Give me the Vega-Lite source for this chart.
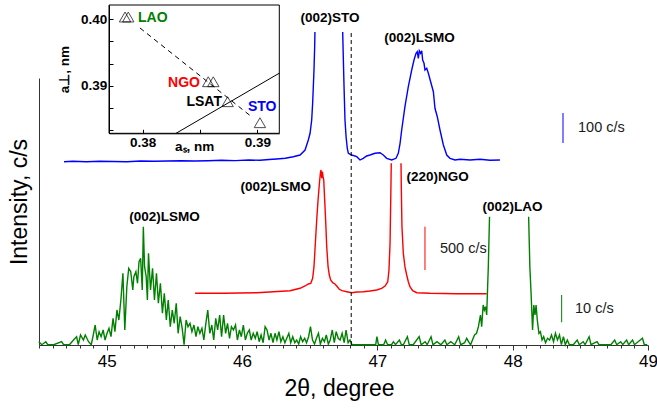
{
"$schema":"https://vega.github.io/schema/vega-lite/v6.json",
"width":609,"height":267,
"autosize":{"type":"none"},
"padding":{"left":39,"top":78,"right":9,"bottom":63},
"background":"white",
"config":{"view":{"stroke":null},"font":"Liberation Sans","axis":{"grid":false}},
"datasets":{
"curves":[
{"s":"STO","g":"STO1","t":44.685,"v":183.3},{"s":"STO","g":"STO1","t":44.75,"v":183.7},{"s":"STO","g":"STO1","t":44.85,"v":183.3},{"s":"STO","g":"STO1","t":44.95,"v":183.7},{"s":"STO","g":"STO1","t":45.05,"v":183.5},{"s":"STO","g":"STO1","t":45.15,"v":183.3},{"s":"STO","g":"STO1","t":45.25,"v":184.0},{"s":"STO","g":"STO1","t":45.35,"v":183.7},{"s":"STO","g":"STO1","t":45.45,"v":184.0},{"s":"STO","g":"STO1","t":45.55,"v":184.3},{"s":"STO","g":"STO1","t":45.65,"v":184.0},{"s":"STO","g":"STO1","t":45.75,"v":184.3},{"s":"STO","g":"STO1","t":45.85,"v":184.7},{"s":"STO","g":"STO1","t":45.95,"v":184.4},{"s":"STO","g":"STO1","t":46.05,"v":185.0},{"s":"STO","g":"STO1","t":46.133,"v":184.7},{"s":"STO","g":"STO1","t":46.2,"v":185.5},{"s":"STO","g":"STO1","t":46.256,"v":186.0},{"s":"STO","g":"STO1","t":46.32,"v":186.7},{"s":"STO","g":"STO1","t":46.379,"v":188.3},{"s":"STO","g":"STO1","t":46.429,"v":190},{"s":"STO","g":"STO1","t":46.466,"v":195},{"s":"STO","g":"STO1","t":46.49,"v":205},{"s":"STO","g":"STO1","t":46.503,"v":211.7},{"s":"STO","g":"STO1","t":46.515,"v":225},{"s":"STO","g":"STO1","t":46.522,"v":241.7},{"s":"STO","g":"STO1","t":46.527,"v":258.3},{"s":"STO","g":"STO1","t":46.532,"v":275},{"s":"STO","g":"STO1","t":46.537,"v":298.3},{"s":"STO","g":"STO1","t":46.539,"v":313},
{"s":"STO","g":"STO2","t":46.744,"v":313},{"s":"STO","g":"STO2","t":46.749,"v":285},{"s":"STO","g":"STO2","t":46.754,"v":258.3},{"s":"STO","g":"STO2","t":46.761,"v":225},{"s":"STO","g":"STO2","t":46.769,"v":208.3},{"s":"STO","g":"STO2","t":46.778,"v":196.7},{"s":"STO","g":"STO2","t":46.786,"v":191.7},{"s":"STO","g":"STO2","t":46.811,"v":190},{"s":"STO","g":"STO2","t":46.848,"v":188.3},{"s":"STO","g":"STO2","t":46.872,"v":185},{"s":"STO","g":"STO2","t":46.896,"v":186.7},{"s":"STO","g":"STO2","t":46.921,"v":189},{"s":"STO","g":"STO2","t":46.946,"v":190},{"s":"STO","g":"STO2","t":46.983,"v":191.7},{"s":"STO","g":"STO2","t":47.02,"v":192.3},{"s":"STO","g":"STO2","t":47.044,"v":190},{"s":"STO","g":"STO2","t":47.069,"v":186.7},{"s":"STO","g":"STO2","t":47.106,"v":185},{"s":"STO","g":"STO2","t":47.138,"v":186.7},{"s":"STO","g":"STO2","t":47.155,"v":191.7},{"s":"STO","g":"STO2","t":47.168,"v":201.7},{"s":"STO","g":"STO2","t":47.18,"v":215},{"s":"STO","g":"STO2","t":47.204,"v":238.3},{"s":"STO","g":"STO2","t":47.229,"v":258.3},{"s":"STO","g":"STO2","t":47.254,"v":275},{"s":"STO","g":"STO2","t":47.271,"v":285},{"s":"STO","g":"STO2","t":47.286,"v":291.7},{"s":"STO","g":"STO2","t":47.295,"v":293.3},{"s":"STO","g":"STO2","t":47.303,"v":286.7},{"s":"STO","g":"STO2","t":47.31,"v":294.3},{"s":"STO","g":"STO2","t":47.32,"v":291.7},{"s":"STO","g":"STO2","t":47.328,"v":294.3},{"s":"STO","g":"STO2","t":47.335,"v":285},{"s":"STO","g":"STO2","t":47.345,"v":281.7},{"s":"STO","g":"STO2","t":47.352,"v":275},{"s":"STO","g":"STO2","t":47.365,"v":276.7},{"s":"STO","g":"STO2","t":47.377,"v":271.7},{"s":"STO","g":"STO2","t":47.394,"v":263.3},{"s":"STO","g":"STO2","t":47.414,"v":253.3},{"s":"STO","g":"STO2","t":47.426,"v":236.7},{"s":"STO","g":"STO2","t":47.443,"v":228.3},{"s":"STO","g":"STO2","t":47.463,"v":215},{"s":"STO","g":"STO2","t":47.488,"v":200},{"s":"STO","g":"STO2","t":47.513,"v":190},{"s":"STO","g":"STO2","t":47.537,"v":186.7},{"s":"STO","g":"STO2","t":47.574,"v":185},{"s":"STO","g":"STO2","t":47.611,"v":185.7},{"s":"STO","g":"STO2","t":47.685,"v":185},{"s":"STO","g":"STO2","t":47.759,"v":185.7},{"s":"STO","g":"STO2","t":47.833,"v":184.7},{"s":"STO","g":"STO2","t":47.906,"v":185},
{"s":"NGO","g":"NGO1","t":45.653,"v":51.7},{"s":"NGO","g":"NGO1","t":45.862,"v":51.7},{"s":"NGO","g":"NGO1","t":46.109,"v":52.3},{"s":"NGO","g":"NGO1","t":46.355,"v":54.3},{"s":"NGO","g":"NGO1","t":46.429,"v":56.7},{"s":"NGO","g":"NGO1","t":46.466,"v":59},{"s":"NGO","g":"NGO1","t":46.49,"v":61},{"s":"NGO","g":"NGO1","t":46.508,"v":61.7},{"s":"NGO","g":"NGO1","t":46.522,"v":66.7},{"s":"NGO","g":"NGO1","t":46.532,"v":78.3},{"s":"NGO","g":"NGO1","t":46.542,"v":101.7},{"s":"NGO","g":"NGO1","t":46.552,"v":125},{"s":"NGO","g":"NGO1","t":46.562,"v":145},{"s":"NGO","g":"NGO1","t":46.572,"v":161.7},{"s":"NGO","g":"NGO1","t":46.579,"v":171.7},{"s":"NGO","g":"NGO1","t":46.584,"v":175},{"s":"NGO","g":"NGO1","t":46.589,"v":166.7},{"s":"NGO","g":"NGO1","t":46.594,"v":173.3},{"s":"NGO","g":"NGO1","t":46.599,"v":168.3},{"s":"NGO","g":"NGO1","t":46.604,"v":165},{"s":"NGO","g":"NGO1","t":46.611,"v":145},{"s":"NGO","g":"NGO1","t":46.619,"v":121.7},{"s":"NGO","g":"NGO1","t":46.626,"v":98.3},{"s":"NGO","g":"NGO1","t":46.636,"v":78.3},{"s":"NGO","g":"NGO1","t":46.645,"v":70},{"s":"NGO","g":"NGO1","t":46.655,"v":65},{"s":"NGO","g":"NGO1","t":46.67,"v":62.3},{"s":"NGO","g":"NGO1","t":46.687,"v":61},{"s":"NGO","g":"NGO1","t":46.7,"v":59},{"s":"NGO","g":"NGO1","t":46.719,"v":55.7},{"s":"NGO","g":"NGO1","t":46.739,"v":54.3},{"s":"NGO","g":"NGO1","t":46.774,"v":53.3},{"s":"NGO","g":"NGO1","t":46.811,"v":52.3},{"s":"NGO","g":"NGO1","t":46.848,"v":53},{"s":"NGO","g":"NGO1","t":46.896,"v":53.3},{"s":"NGO","g":"NGO1","t":46.946,"v":54},{"s":"NGO","g":"NGO1","t":46.995,"v":55},{"s":"NGO","g":"NGO1","t":47.032,"v":56.7},{"s":"NGO","g":"NGO1","t":47.057,"v":59},{"s":"NGO","g":"NGO1","t":47.077,"v":63.3},{"s":"NGO","g":"NGO1","t":47.086,"v":75},{"s":"NGO","g":"NGO1","t":47.094,"v":101.7},{"s":"NGO","g":"NGO1","t":47.099,"v":145},{"s":"NGO","g":"NGO1","t":47.103,"v":181.7},
{"s":"NGO","g":"NGO2","t":47.175,"v":181.7},{"s":"NGO","g":"NGO2","t":47.177,"v":158.3},{"s":"NGO","g":"NGO2","t":47.182,"v":118.3},{"s":"NGO","g":"NGO2","t":47.192,"v":91.7},{"s":"NGO","g":"NGO2","t":47.204,"v":78.3},{"s":"NGO","g":"NGO2","t":47.217,"v":70},{"s":"NGO","g":"NGO2","t":47.229,"v":63.3},{"s":"NGO","g":"NGO2","t":47.241,"v":58.3},{"s":"NGO","g":"NGO2","t":47.261,"v":54.3},{"s":"NGO","g":"NGO2","t":47.291,"v":52.3},{"s":"NGO","g":"NGO2","t":47.389,"v":51.7},{"s":"NGO","g":"NGO2","t":47.587,"v":51.3},{"s":"NGO","g":"NGO2","t":47.808,"v":51.3},
{"s":"LAO","g":"LAO1","t":44.498,"v":3.3},{"s":"LAO","g":"LAO1","t":44.521,"v":0.3},{"s":"LAO","g":"LAO1","t":44.55,"v":3.3},{"s":"LAO","g":"LAO1","t":44.565,"v":0.3},{"s":"LAO","g":"LAO1","t":44.609,"v":0.3},{"s":"LAO","g":"LAO1","t":44.667,"v":3.3},{"s":"LAO","g":"LAO1","t":44.682,"v":0.3},{"s":"LAO","g":"LAO1","t":44.725,"v":0.3},{"s":"LAO","g":"LAO1","t":44.755,"v":5},{"s":"LAO","g":"LAO1","t":44.778,"v":8.3},{"s":"LAO","g":"LAO1","t":44.79,"v":0.3},{"s":"LAO","g":"LAO1","t":44.807,"v":10},{"s":"LAO","g":"LAO1","t":44.828,"v":5},{"s":"LAO","g":"LAO1","t":44.842,"v":10},{"s":"LAO","g":"LAO1","t":44.866,"v":3.3},{"s":"LAO","g":"LAO1","t":44.886,"v":0.3},{"s":"LAO","g":"LAO1","t":44.901,"v":10},{"s":"LAO","g":"LAO1","t":44.915,"v":20},{"s":"LAO","g":"LAO1","t":44.93,"v":5},{"s":"LAO","g":"LAO1","t":44.944,"v":13.3},{"s":"LAO","g":"LAO1","t":44.959,"v":8.3},{"s":"LAO","g":"LAO1","t":44.974,"v":15},{"s":"LAO","g":"LAO1","t":44.988,"v":5},{"s":"LAO","g":"LAO1","t":45.003,"v":11.7},{"s":"LAO","g":"LAO1","t":45.017,"v":16.7},{"s":"LAO","g":"LAO1","t":45.032,"v":8.3},{"s":"LAO","g":"LAO1","t":45.047,"v":26.7},{"s":"LAO","g":"LAO1","t":45.061,"v":13.3},{"s":"LAO","g":"LAO1","t":45.076,"v":35},{"s":"LAO","g":"LAO1","t":45.09,"v":25},{"s":"LAO","g":"LAO1","t":45.105,"v":45},{"s":"LAO","g":"LAO1","t":45.12,"v":71.7},{"s":"LAO","g":"LAO1","t":45.134,"v":15},{"s":"LAO","g":"LAO1","t":45.149,"v":58.3},{"s":"LAO","g":"LAO1","t":45.163,"v":76.7},{"s":"LAO","g":"LAO1","t":45.178,"v":73.3},{"s":"LAO","g":"LAO1","t":45.193,"v":55},{"s":"LAO","g":"LAO1","t":45.201,"v":68.3},{"s":"LAO","g":"LAO1","t":45.216,"v":73.3},{"s":"LAO","g":"LAO1","t":45.228,"v":61.7},{"s":"LAO","g":"LAO1","t":45.239,"v":83.3},{"s":"LAO","g":"LAO1","t":45.251,"v":86.7},{"s":"LAO","g":"LAO1","t":45.263,"v":55},{"s":"LAO","g":"LAO1","t":45.271,"v":118.3},{"s":"LAO","g":"LAO1","t":45.28,"v":78.3},{"s":"LAO","g":"LAO1","t":45.292,"v":68.3},{"s":"LAO","g":"LAO1","t":45.301,"v":45},{"s":"LAO","g":"LAO1","t":45.309,"v":91.7},{"s":"LAO","g":"LAO1","t":45.324,"v":55},{"s":"LAO","g":"LAO1","t":45.339,"v":76.7},{"s":"LAO","g":"LAO1","t":45.353,"v":45},{"s":"LAO","g":"LAO1","t":45.368,"v":71.7},{"s":"LAO","g":"LAO1","t":45.382,"v":41.7},{"s":"LAO","g":"LAO1","t":45.397,"v":61.7},{"s":"LAO","g":"LAO1","t":45.412,"v":31.7},{"s":"LAO","g":"LAO1","t":45.426,"v":51.7},{"s":"LAO","g":"LAO1","t":45.441,"v":25},{"s":"LAO","g":"LAO1","t":45.455,"v":45},{"s":"LAO","g":"LAO1","t":45.47,"v":18.3},{"s":"LAO","g":"LAO1","t":45.485,"v":35},{"s":"LAO","g":"LAO1","t":45.499,"v":21.7},{"s":"LAO","g":"LAO1","t":45.514,"v":41.7},{"s":"LAO","g":"LAO1","t":45.528,"v":11.7},{"s":"LAO","g":"LAO1","t":45.543,"v":28.3},{"s":"LAO","g":"LAO1","t":45.558,"v":16.7},{"s":"LAO","g":"LAO1","t":45.572,"v":0.3},{"s":"LAO","g":"LAO1","t":45.587,"v":25},{"s":"LAO","g":"LAO1","t":45.601,"v":18.3},{"s":"LAO","g":"LAO1","t":45.616,"v":21.7},{"s":"LAO","g":"LAO1","t":45.63,"v":13.3},{"s":"LAO","g":"LAO1","t":45.645,"v":20},{"s":"LAO","g":"LAO1","t":45.66,"v":8.3},{"s":"LAO","g":"LAO1","t":45.674,"v":18.3},{"s":"LAO","g":"LAO1","t":45.689,"v":11.7},{"s":"LAO","g":"LAO1","t":45.704,"v":16.7},{"s":"LAO","g":"LAO1","t":45.718,"v":5},{"s":"LAO","g":"LAO1","t":45.733,"v":21.7},{"s":"LAO","g":"LAO1","t":45.747,"v":35},{"s":"LAO","g":"LAO1","t":45.762,"v":11.7},{"s":"LAO","g":"LAO1","t":45.777,"v":20},{"s":"LAO","g":"LAO1","t":45.791,"v":5},{"s":"LAO","g":"LAO1","t":45.806,"v":26.7},{"s":"LAO","g":"LAO1","t":45.82,"v":15},{"s":"LAO","g":"LAO1","t":45.835,"v":30},{"s":"LAO","g":"LAO1","t":45.849,"v":8.3},{"s":"LAO","g":"LAO1","t":45.864,"v":30},{"s":"LAO","g":"LAO1","t":45.879,"v":11.7},{"s":"LAO","g":"LAO1","t":45.893,"v":21.7},{"s":"LAO","g":"LAO1","t":45.908,"v":6.7},{"s":"LAO","g":"LAO1","t":45.922,"v":18.3},{"s":"LAO","g":"LAO1","t":45.937,"v":15},{"s":"LAO","g":"LAO1","t":45.952,"v":20},{"s":"LAO","g":"LAO1","t":45.966,"v":5},{"s":"LAO","g":"LAO1","t":45.981,"v":15},{"s":"LAO","g":"LAO1","t":45.995,"v":8.3},{"s":"LAO","g":"LAO1","t":46.01,"v":20},{"s":"LAO","g":"LAO1","t":46.025,"v":5},{"s":"LAO","g":"LAO1","t":46.039,"v":11.7},{"s":"LAO","g":"LAO1","t":46.054,"v":15},{"s":"LAO","g":"LAO1","t":46.068,"v":5},{"s":"LAO","g":"LAO1","t":46.083,"v":11.7},{"s":"LAO","g":"LAO1","t":46.098,"v":6.7},{"s":"LAO","g":"LAO1","t":46.112,"v":13.3},{"s":"LAO","g":"LAO1","t":46.127,"v":3.3},{"s":"LAO","g":"LAO1","t":46.141,"v":10},{"s":"LAO","g":"LAO1","t":46.156,"v":2.3},{"s":"LAO","g":"LAO1","t":46.171,"v":18.3},{"s":"LAO","g":"LAO1","t":46.185,"v":15},{"s":"LAO","g":"LAO1","t":46.2,"v":5},{"s":"LAO","g":"LAO1","t":46.214,"v":11.7},{"s":"LAO","g":"LAO1","t":46.229,"v":2.3},{"s":"LAO","g":"LAO1","t":46.244,"v":11.7},{"s":"LAO","g":"LAO1","t":46.258,"v":5},{"s":"LAO","g":"LAO1","t":46.273,"v":13.3},{"s":"LAO","g":"LAO1","t":46.287,"v":3.3},{"s":"LAO","g":"LAO1","t":46.302,"v":8.3},{"s":"LAO","g":"LAO1","t":46.317,"v":2.3},{"s":"LAO","g":"LAO1","t":46.331,"v":6.7},{"s":"LAO","g":"LAO1","t":46.346,"v":11.7},{"s":"LAO","g":"LAO1","t":46.36,"v":2.3},{"s":"LAO","g":"LAO1","t":46.375,"v":8.3},{"s":"LAO","g":"LAO1","t":46.39,"v":2.3},{"s":"LAO","g":"LAO1","t":46.404,"v":5},{"s":"LAO","g":"LAO1","t":46.419,"v":1},{"s":"LAO","g":"LAO1","t":46.433,"v":8.3},{"s":"LAO","g":"LAO1","t":46.448,"v":3.3},{"s":"LAO","g":"LAO1","t":46.463,"v":6.7},{"s":"LAO","g":"LAO1","t":46.477,"v":2.3},{"s":"LAO","g":"LAO1","t":46.492,"v":8.3},{"s":"LAO","g":"LAO1","t":46.506,"v":18.3},{"s":"LAO","g":"LAO1","t":46.521,"v":5},{"s":"LAO","g":"LAO1","t":46.536,"v":1},{"s":"LAO","g":"LAO1","t":46.55,"v":6.7},{"s":"LAO","g":"LAO1","t":46.565,"v":11.7},{"s":"LAO","g":"LAO1","t":46.579,"v":1},{"s":"LAO","g":"LAO1","t":46.594,"v":6.7},{"s":"LAO","g":"LAO1","t":46.609,"v":3.3},{"s":"LAO","g":"LAO1","t":46.623,"v":10},{"s":"LAO","g":"LAO1","t":46.638,"v":1},{"s":"LAO","g":"LAO1","t":46.652,"v":5},{"s":"LAO","g":"LAO1","t":46.667,"v":15},{"s":"LAO","g":"LAO1","t":46.682,"v":2.3},{"s":"LAO","g":"LAO1","t":46.696,"v":13.3},{"s":"LAO","g":"LAO1","t":46.711,"v":6.7},{"s":"LAO","g":"LAO1","t":46.725,"v":5},{"s":"LAO","g":"LAO1","t":46.74,"v":11.7},{"s":"LAO","g":"LAO1","t":46.755,"v":2.3},{"s":"LAO","g":"LAO1","t":46.769,"v":15},{"s":"LAO","g":"LAO1","t":46.784,"v":2.3},{"s":"LAO","g":"LAO1","t":46.798,"v":5},{"s":"LAO","g":"LAO1","t":46.813,"v":0.3},{"s":"LAO","g":"LAO1","t":46.988,"v":0.3},{"s":"LAO","g":"LAO1","t":46.997,"v":8.3},{"s":"LAO","g":"LAO1","t":47.008,"v":0.3},{"s":"LAO","g":"LAO1","t":47.047,"v":0.3},{"s":"LAO","g":"LAO1","t":47.061,"v":5},{"s":"LAO","g":"LAO1","t":47.076,"v":0.3},{"s":"LAO","g":"LAO1","t":47.105,"v":0.3},{"s":"LAO","g":"LAO1","t":47.119,"v":3.3},{"s":"LAO","g":"LAO1","t":47.134,"v":0.3},{"s":"LAO","g":"LAO1","t":47.163,"v":5},{"s":"LAO","g":"LAO1","t":47.178,"v":0.3},{"s":"LAO","g":"LAO1","t":47.192,"v":0.3},{"s":"LAO","g":"LAO1","t":47.222,"v":8.3},{"s":"LAO","g":"LAO1","t":47.236,"v":0.3},{"s":"LAO","g":"LAO1","t":47.265,"v":0.3},{"s":"LAO","g":"LAO1","t":47.309,"v":8.3},{"s":"LAO","g":"LAO1","t":47.324,"v":0.3},{"s":"LAO","g":"LAO1","t":47.353,"v":3.3},{"s":"LAO","g":"LAO1","t":47.368,"v":0.3},{"s":"LAO","g":"LAO1","t":47.397,"v":8.3},{"s":"LAO","g":"LAO1","t":47.411,"v":0.3},{"s":"LAO","g":"LAO1","t":47.441,"v":3.3},{"s":"LAO","g":"LAO1","t":47.47,"v":0.3},{"s":"LAO","g":"LAO1","t":47.499,"v":5},{"s":"LAO","g":"LAO1","t":47.514,"v":0.3},{"s":"LAO","g":"LAO1","t":47.543,"v":3.3},{"s":"LAO","g":"LAO1","t":47.572,"v":0.3},{"s":"LAO","g":"LAO1","t":47.601,"v":8.3},{"s":"LAO","g":"LAO1","t":47.616,"v":0.3},{"s":"LAO","g":"LAO1","t":47.645,"v":2.3},{"s":"LAO","g":"LAO1","t":47.66,"v":6.7},{"s":"LAO","g":"LAO1","t":47.674,"v":3.3},{"s":"LAO","g":"LAO1","t":47.689,"v":0.3},{"s":"LAO","g":"LAO1","t":47.703,"v":5},{"s":"LAO","g":"LAO1","t":47.718,"v":10},{"s":"LAO","g":"LAO1","t":47.733,"v":11.7},{"s":"LAO","g":"LAO1","t":47.747,"v":18.3},{"s":"LAO","g":"LAO1","t":47.762,"v":30},{"s":"LAO","g":"LAO1","t":47.771,"v":18.3},{"s":"LAO","g":"LAO1","t":47.782,"v":40},{"s":"LAO","g":"LAO1","t":47.791,"v":35},{"s":"LAO","g":"LAO1","t":47.8,"v":38.3},{"s":"LAO","g":"LAO1","t":47.808,"v":30},{"s":"LAO","g":"LAO1","t":47.82,"v":78.3},{"s":"LAO","g":"LAO1","t":47.829,"v":128.3},
{"s":"LAO","g":"LAO2","t":48.118,"v":128.3},{"s":"LAO","g":"LAO2","t":48.127,"v":78.3},{"s":"LAO","g":"LAO2","t":48.136,"v":51.7},{"s":"LAO","g":"LAO2","t":48.147,"v":15},{"s":"LAO","g":"LAO2","t":48.156,"v":40},{"s":"LAO","g":"LAO2","t":48.165,"v":30},{"s":"LAO","g":"LAO2","t":48.173,"v":40},{"s":"LAO","g":"LAO2","t":48.182,"v":25},{"s":"LAO","g":"LAO2","t":48.194,"v":11.7},{"s":"LAO","g":"LAO2","t":48.205,"v":13.3},{"s":"LAO","g":"LAO2","t":48.217,"v":5},{"s":"LAO","g":"LAO2","t":48.229,"v":8.3},{"s":"LAO","g":"LAO2","t":48.243,"v":2.3},{"s":"LAO","g":"LAO2","t":48.258,"v":6.7},{"s":"LAO","g":"LAO2","t":48.273,"v":5},{"s":"LAO","g":"LAO2","t":48.287,"v":10},{"s":"LAO","g":"LAO2","t":48.302,"v":3.3},{"s":"LAO","g":"LAO2","t":48.316,"v":11.7},{"s":"LAO","g":"LAO2","t":48.331,"v":5},{"s":"LAO","g":"LAO2","t":48.346,"v":10},{"s":"LAO","g":"LAO2","t":48.36,"v":0.3},{"s":"LAO","g":"LAO2","t":48.375,"v":8.3},{"s":"LAO","g":"LAO2","t":48.389,"v":0.3},{"s":"LAO","g":"LAO2","t":48.404,"v":5},{"s":"LAO","g":"LAO2","t":48.419,"v":0.3},{"s":"LAO","g":"LAO2","t":48.448,"v":0.3},{"s":"LAO","g":"LAO2","t":48.477,"v":5},{"s":"LAO","g":"LAO2","t":48.492,"v":0.3},{"s":"LAO","g":"LAO2","t":48.521,"v":3.3},{"s":"LAO","g":"LAO2","t":48.535,"v":0.3},{"s":"LAO","g":"LAO2","t":48.565,"v":8.3},{"s":"LAO","g":"LAO2","t":48.579,"v":0.3},{"s":"LAO","g":"LAO2","t":48.623,"v":3.3},{"s":"LAO","g":"LAO2","t":48.638,"v":0.3},{"s":"LAO","g":"LAO2","t":48.725,"v":0.3},{"s":"LAO","g":"LAO2","t":48.754,"v":5},{"s":"LAO","g":"LAO2","t":48.769,"v":0.3},{"s":"LAO","g":"LAO2","t":48.798,"v":3.3},{"s":"LAO","g":"LAO2","t":48.813,"v":0.3},{"s":"LAO","g":"LAO2","t":48.842,"v":5},{"s":"LAO","g":"LAO2","t":48.857,"v":0.3},{"s":"LAO","g":"LAO2","t":48.886,"v":5},{"s":"LAO","g":"LAO2","t":48.9,"v":0.3},{"s":"LAO","g":"LAO2","t":48.959,"v":6.7},{"s":"LAO","g":"LAO2","t":48.973,"v":0.3},{"s":"LAO","g":"LAO2","t":48.994,"v":0.3}
],
"bars":[
{"s":"STO","t":48.372,"v":202,"v2":232},
{"s":"NGO","t":47.352,"v":75,"v2":118.3},
{"s":"LAO","t":48.362,"v":22.7,"v2":50}
],
"barlabels":[
{"t":48.483,"v":217,"label":"100 c/s"},
{"t":47.463,"v":96,"label":"500 c/s"},
{"t":48.461,"v":36,"label":"10 c/s"}
],
"marker":[{"t":46.807,"v":0,"v2":312}],
"peaklabels":[
{"t":46.65,"v":326.7,"label":"(002)STO"},
{"t":47.311,"v":307.3,"label":"(002)LSMO"},
{"t":46.25,"v":158.3,"label":"(002)LSMO"},
{"t":47.445,"v":168.3,"label":"(220)NGO"},
{"t":47.999,"v":138.3,"label":"(002)LAO"},
{"t":45.427,"v":128.3,"label":"(002)LSMO"}
],
"frame":[{"x":0.37706,"x2":0.39192,"y":0.38291,"y2":0.40214}],
"cubic":[{"x":0.38291,"y":0.38291},{"x":0.39192,"y":0.39192}],
"trend":[{"x":0.37976,"y":0.3987},{"x":0.38953,"y":0.38535}],
"subs":[
{"name":"LAO","x":0.37846,"y":0.40034},{"name":"LAO","x":0.37874,"y":0.40034},
{"name":"NGO","x":0.38572,"y":0.39064},{"name":"NGO","x":0.38616,"y":0.39064},
{"name":"LSAT","x":0.38741,"y":0.38765},
{"name":"STO","x":0.39023,"y":0.3845}
],
"sublabels":[
{"name":"LAO","x":0.37959,"y":0.4002,"side":"left"},
{"name":"NGO","x":0.385,"y":0.39045,"side":"right"},
{"name":"LSAT","x":0.38692,"y":0.3876,"side":"right"},
{"name":"STO","x":0.38918,"y":0.38685,"side":"left"}
]
},
"layer":[
{
"layer":[
{"data":{"name":"curves"},"mark":{"type":"line","strokeWidth":1.4},
"encoding":{
"x":{"field":"t","type":"quantitative","scale":{"domain":[44.5,49],"nice":false,"zero":false},
"axis":{"orient":"bottom","title":"2θ, degree","values":[45,46,47,48,49],"format":"d",
"tickSize":5,"labelPadding":3.3,"labelOverlap":false,"labelFlush":false,"labelFontSize":17,"labelColor":"black","labelFont":"Liberation Sans",
"domainColor":"#333","tickColor":"#333","domainWidth":1,"tickWidth":1,
"titleFontSize":23,"titleFontWeight":"normal","titleColor":"black","titleFont":"Liberation Sans","titleX":300,"titleY":50,"titleAlign":"center","titleBaseline":"alphabetic"}},
"y":{"field":"v","type":"quantitative","scale":{"domain":[0,267],"nice":false,"zero":false},
"axis":{"title":"Intensity, c/s","ticks":false,"labels":false,"domainColor":"#333","domainWidth":1,
"titleFontSize":23,"titleFontWeight":"normal","titleColor":"black","titleFont":"Liberation Sans","titleX":-13,"titleY":123.5,"titleAngle":-90,"titleAlign":"center","titleBaseline":"alphabetic"}},
"color":{"field":"s","type":"nominal","scale":{"domain":["STO","NGO","LAO"],"range":["#0000ff","#ff0000","#008000"]},"legend":null},
"detail":{"field":"g","type":"nominal"}
}},
{"data":{"name":"bars"},"mark":{"type":"rule","strokeWidth":1},
"encoding":{"x":{"field":"t","type":"quantitative","axis":null},"y":{"field":"v","type":"quantitative"},"y2":{"field":"v2"},
"color":{"field":"s","type":"nominal","legend":null}}},
{"data":{"name":"marker"},"mark":{"type":"rule","strokeDash":[4,3],"color":"black","strokeWidth":1},
"encoding":{"x":{"field":"t","type":"quantitative",
"axis":{"orient":"bottom","title":null,"labels":false,"domain":false,"tickSize":3,"tickColor":"#333","tickWidth":1,
"values":[44.5,44.6,44.7,44.8,44.9,45.1,45.2,45.3,45.4,45.5,45.6,45.7,45.8,45.9,46.1,46.2,46.3,46.4,46.5,46.6,46.7,46.8,46.9,47.1,47.2,47.3,47.4,47.5,47.6,47.7,47.8,47.9,48.1,48.2,48.3,48.4,48.5,48.6,48.7,48.8,48.9]}},
"y":{"field":"v","type":"quantitative"},"y2":{"field":"v2"}}},
{"data":{"name":"peaklabels"},"mark":{"type":"text","fontWeight":"bold","fontSize":13.5,"color":"black","align":"center","baseline":"middle","font":"Liberation Sans"},
"encoding":{"x":{"field":"t","type":"quantitative","axis":null},"y":{"field":"v","type":"quantitative"},"text":{"field":"label"}}},
{"data":{"name":"barlabels"},"mark":{"type":"text","fontSize":14.5,"color":"#1a1a1a","align":"left","baseline":"middle","font":"Liberation Sans"},
"encoding":{"x":{"field":"t","type":"quantitative","axis":null},"y":{"field":"v","type":"quantitative"},"text":{"field":"label"}}}
],
"resolve":{"axis":{"x":"independent"}}
},
{
"layer":[
{"data":{"name":"frame"},"mark":{"type":"rect","fillOpacity":0,"stroke":"black","strokeWidth":1},
"encoding":{
"x":{"field":"x","type":"quantitative","scale":{"domain":[0.37706,0.39192],"range":[70,240.3],"nice":false,"zero":false},
"axis":{"orient":"bottom","offset":-211.7,"values":[0.38,0.385,0.39],
"labelExpr":"abs(datum.value*100 - round(datum.value*100)) < 0.01 ? format(datum.value, '.2f') : ''",
"tickSize":-4,"labelPadding":6.3,"labelFontSize":13.5,"labelFontWeight":"bold","labelColor":"black","labelFont":"Liberation Sans","labelFlush":false,"labelOverlap":false,
"domainColor":"black","tickColor":"black",
"title":"aₛ, nm","titleFontSize":13.5,"titleFontWeight":"bold","titleColor":"black","titleFont":"Liberation Sans","titleY":17.2,"titleBaseline":"alphabetic"}},
"x2":{"field":"x2"},
"y":{"field":"y","type":"quantitative","scale":{"domain":[0.38291,0.40214],"range":[55.3,-73],"nice":false,"zero":false},
"axis":{"orient":"left","offset":-70,"values":[0.38333,0.38667,0.39,0.39333,0.39667,0.4],
"labelExpr":"abs(datum.value*100 - round(datum.value*100)) < 0.01 ? format(datum.value, '.2f') : ''",
"tickSize":-4,"labelPadding":6.3,"labelFontSize":13.5,"labelFontWeight":"bold","labelColor":"black","labelFont":"Liberation Sans","labelFlush":false,"labelOverlap":false,
"domainColor":"black","tickColor":"black",
"title":"a⊥, nm","titleFontSize":13.5,"titleFontWeight":"bold","titleColor":"black","titleFont":"Liberation Sans","titleX":-41,"titleAngle":-90,"titleBaseline":"alphabetic","titleAlign":"center"}},
"y2":{"field":"y2"}
}},
{"data":{"name":"cubic"},"mark":{"type":"line","color":"black","strokeWidth":1},
"encoding":{"x":{"field":"x","type":"quantitative"},"y":{"field":"y","type":"quantitative"}}},
{"data":{"name":"trend"},"mark":{"type":"line","color":"black","strokeWidth":1,"strokeDash":[5,4]},
"encoding":{"x":{"field":"x","type":"quantitative"},"y":{"field":"y","type":"quantitative"}}},
{"data":{"name":"subs"},"mark":{"type":"point","shape":"triangle-up","filled":false,"stroke":"black","strokeWidth":1,"size":130},
"encoding":{"x":{"field":"x","type":"quantitative"},"y":{"field":"y","type":"quantitative"}}},
{"data":{"name":"sublabels"},"transform":[{"filter":"datum.side === 'left'"}],"mark":{"type":"text","fontWeight":"bold","fontSize":14,"align":"left","baseline":"middle","font":"Liberation Sans"},
"encoding":{"x":{"field":"x","type":"quantitative"},"y":{"field":"y","type":"quantitative"},"text":{"field":"name"},
"color":{"field":"name","type":"nominal","scale":{"domain":["LAO","NGO","LSAT","STO"],"range":["#008000","#ff0000","#000000","#0000ff"]},"legend":null}}},
{"data":{"name":"sublabels"},"transform":[{"filter":"datum.side === 'right'"}],"mark":{"type":"text","fontWeight":"bold","fontSize":14,"align":"right","baseline":"middle","font":"Liberation Sans"},
"encoding":{"x":{"field":"x","type":"quantitative"},"y":{"field":"y","type":"quantitative"},"text":{"field":"name"},
"color":{"field":"name","type":"nominal","legend":null}}}
]
}
],
"resolve":{"scale":{"x":"independent","y":"independent","color":"independent"}}
}
